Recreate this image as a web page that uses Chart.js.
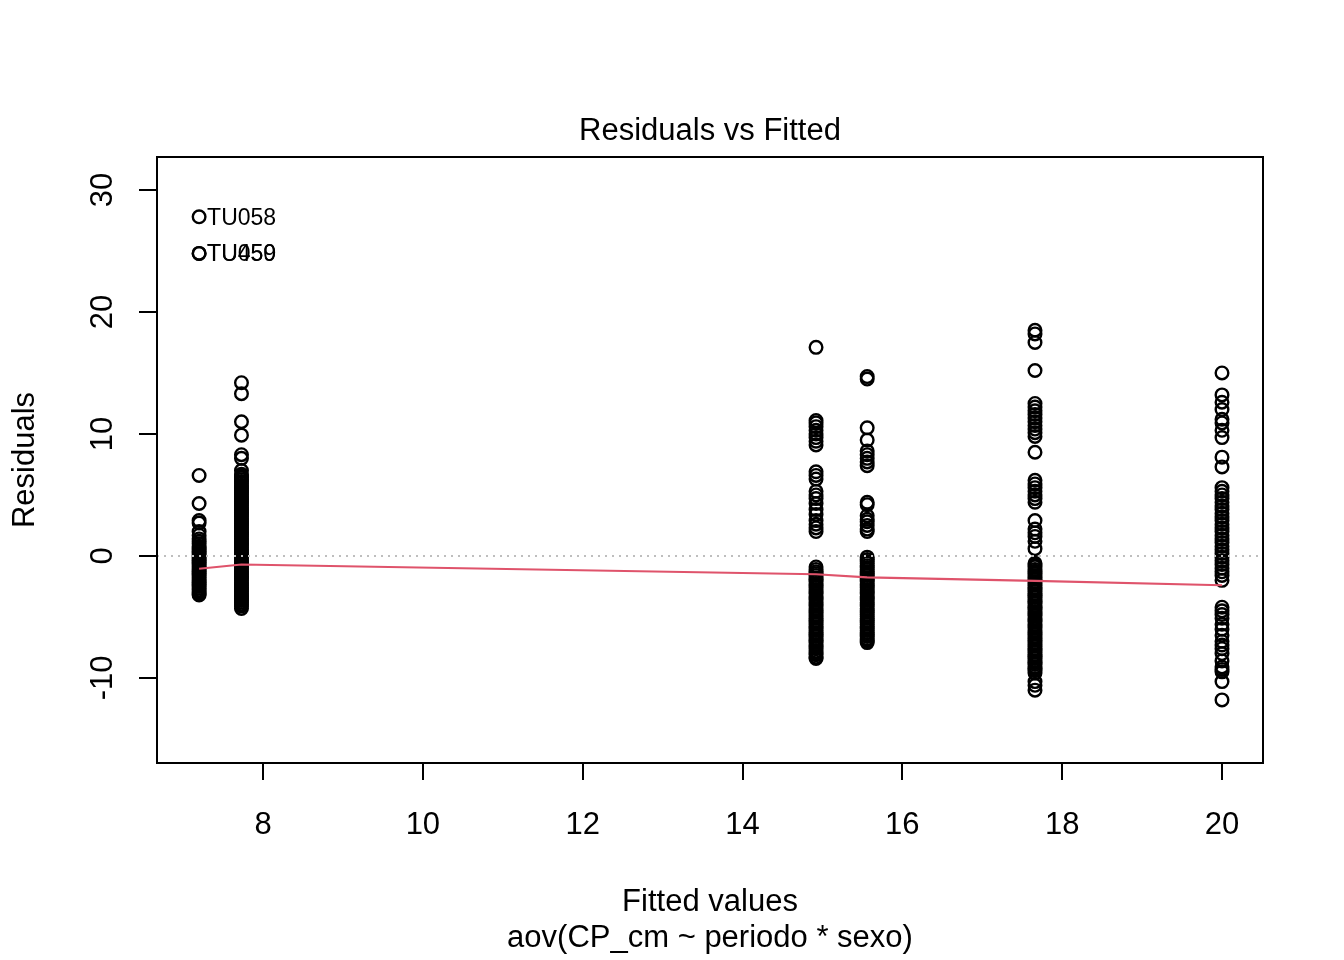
<!DOCTYPE html>
<html>
<head>
<meta charset="utf-8">
<script src="https://cdn.jsdelivr.net/npm/chart.js@4/dist/chart.umd.min.js"></script>
<style>
  html, body { margin: 0; padding: 0; background: #fff; }
  #wrap { width: 1344px; height: 960px; }
</style>
</head>
<body>
<div id="wrap"><canvas id="c" width="1344" height="960"></canvas></div>
<script>
// fitted levels (one per group) and the residuals
const fittedLevels = [7.2, 7.73, 14.92, 15.56, 17.66, 20.0];
const res1 = [27.8, 24.8, 24.8, 6.6, 4.3, 2.9, 2.7, 2.0, 1.7, 1.4, 1.2, 1.0,
    0.8, 0.65, 0.5, 0.35, 0.2, 0.05, -0.1, -0.25, -0.4, -0.55, -0.7, -0.85, -1.0, -1.15, -1.3, -1.45,
    -1.6, -1.75, -1.9, -2.05, -2.2, -2.35, -2.5, -2.65, -2.8, -2.95, -3.1, -3.2];
const res2 = [14.2, 13.3, 11.0, 9.9, 8.3, 8.0, 7.0,
    6.7, 6.55, 6.4, 6.25, 6.1, 5.95, 5.8, 5.65, 5.5, 5.35, 5.2, 5.05, 4.9, 4.75, 4.6, 4.45, 4.3, 4.15,
    4.0, 3.85, 3.7, 3.55, 3.4, 3.25, 3.1, 2.95, 2.8, 2.65, 2.5, 2.35, 2.2, 2.05, 1.9, 1.75, 1.6, 1.45,
    1.3, 1.15, 1.0, 0.85, 0.7, 0.55, 0.4, 0.25, 0.1, -0.05, -0.2, -0.35, -0.5, -0.65, -0.8, -0.95,
    -1.1, -1.25, -1.4, -1.55, -1.7, -1.85, -2.0, -2.15, -2.3, -2.45, -2.6, -2.75, -2.9, -3.05, -3.2,
    -3.35, -3.5, -3.65, -3.8, -3.95, -4.1, -4.3];
const res3 = [17.1, 11.1, 10.9, 10.6, 10.3, 10.0, 9.7, 9.4, 9.1, 6.9, 6.6, 6.3, 5.3, 5.0, 4.7, 4.3,
    3.8, 3.4, 2.9, 2.6, 2.3, 2.0,
    -0.9, -1.1, -1.3, -1.45, -1.6, -1.8, -1.95, -2.1, -2.3, -2.45, -2.6, -2.8, -2.95, -3.1, -3.3,
    -3.45, -3.6, -3.8, -3.95, -4.1, -4.3, -4.45, -4.6, -4.8, -4.95, -5.1, -5.3, -5.45, -5.6, -5.8,
    -5.95, -6.1, -6.3, -6.45, -6.6, -6.8, -6.95, -7.1, -7.3, -7.45, -7.6, -7.8, -7.95, -8.1, -8.3, -8.4];
const res4 = [14.7, 14.5, 10.5, 9.5, 8.6, 8.3, 8.0, 7.7, 7.4, 4.4, 4.2, 3.3, 3.0, 2.8, 2.5, 2.2, 2.0,
    -0.1, -0.3, -0.45, -0.6, -0.8, -0.95, -1.1, -1.3, -1.45, -1.6, -1.8, -1.95, -2.1, -2.3, -2.45,
    -2.6, -2.8, -2.95, -3.1, -3.3, -3.45, -3.6, -3.8, -3.95, -4.1, -4.3, -4.45, -4.6, -4.8, -4.95,
    -5.1, -5.3, -5.45, -5.6, -5.8, -5.95, -6.1, -6.3, -6.45, -6.6, -6.8, -6.95, -7.1];
const res5 = [18.5, 18.2, 17.5, 15.2, 12.5, 12.2, 11.9, 11.6, 11.3, 11.0, 10.7, 10.4, 10.1, 9.8, 8.5,
    6.2, 5.9, 5.6, 5.3, 5.0, 4.7, 4.4, 2.9, 2.2, 1.9, 1.6, 1.2, 0.6,
    -0.6, -0.75, -0.9, -1.1, -1.25, -1.4, -1.6, -1.75, -1.9, -2.1, -2.25, -2.4, -2.6, -2.75, -2.9,
    -3.1, -3.25, -3.4, -3.6, -3.75, -3.9, -4.1, -4.25, -4.4, -4.6, -4.75, -4.9, -5.1, -5.25, -5.4,
    -5.6, -5.75, -5.9, -6.1, -6.25, -6.4, -6.6, -6.75, -6.9, -7.1, -7.25, -7.4, -7.6, -7.75, -7.9,
    -8.1, -8.25, -8.4, -8.6, -8.75, -8.9, -9.1, -9.25, -9.4, -9.6, -10.3, -10.6, -11.0];
const res6 = [15.0, 13.2, 12.6, 12.0, 11.2, 10.9, 10.3, 9.7, 8.1, 7.3,
    5.6, 5.3, 5.0, 4.7, 4.4, 4.1, 3.8, 3.5, 3.2, 2.9, 2.6, 2.3, 2.0, 1.7, 1.4, 1.1, 0.8, 0.5, 0.2,
    -0.1, -0.4, -0.7, -1.0, -1.3, -1.6, -2.0,
    -4.2, -4.5, -4.8, -5.1, -5.6, -6.0, -6.5, -7.0, -7.3, -7.6, -8.0, -8.6, -9.1, -9.3, -9.5, -10.3, -11.8];
const residualsByLevel = [res1, res2, res3, res4, res5, res6];

// lowess smooth evaluated at the fitted levels
const smoothY = [-1.05, -0.7, -1.5, -1.75, -2.05, -2.4];

// labelled outliers
const outlierNames = ["TU058", "TU450", "TU059"];
const outlierX = [7.2, 7.2, 7.2];
const outlierY = [27.8, 24.8, 24.8];

const xTicks = [8, 10, 12, 14, 16, 18, 20];
const yTicks = [-10, 0, 10, 20, 30];

const FONT = "'Liberation Sans', Arial, sans-serif";

const points = [];
fittedLevels.forEach((f, i) => {
    residualsByLevel[i].forEach(r => points.push({ x: f, y: r }));
});
const smooth = fittedLevels.map((f, i) => ({ x: f, y: smoothY[i] }));

const xMin = 6.673, xMax = 20.513;
const yMin = -16.97, yMax = 32.7;

const rPlot = {
    id: "rPlot",
    afterDraw(chart) {
        const ctx = chart.ctx;
        const a = chart.chartArea;
        const xs = chart.scales.x, ys = chart.scales.y;
        ctx.save();
        // box
        ctx.strokeStyle = "#000";
        ctx.lineWidth = 2;
        ctx.strokeRect(a.left, a.top, a.right - a.left, a.bottom - a.top);

        ctx.fillStyle = "#000";
        // y tick labels, rotated like R
        ctx.font = "31px " + FONT;
        ctx.textAlign = "center";
        ctx.textBaseline = "alphabetic";
        yTicks.forEach(v => {
            ctx.save();
            ctx.translate(112, ys.getPixelForValue(v));
            ctx.rotate(-Math.PI / 2);
            ctx.fillText(String(v), 0, 0);
            ctx.restore();
        });
        // titles
        const cx = (a.left + a.right) / 2;
        ctx.fillText("Residuals vs Fitted", cx, 140);
        ctx.fillText("Fitted values", cx, 911);
        ctx.fillText("aov(CP_cm ~ periodo * sexo)", cx, 947);
        ctx.save();
        ctx.translate(34, (a.top + a.bottom) / 2);
        ctx.rotate(-Math.PI / 2);
        ctx.fillText("Residuals", 0, 0);
        ctx.restore();
        // outlier labels
        ctx.font = "23px " + FONT;
        ctx.textAlign = "left";
        outlierNames.forEach((n, i) => {
            const px = xs.getPixelForValue(outlierX[i]);
            const py = ys.getPixelForValue(outlierY[i]);
            ctx.fillText(n, px + 8, py + 8);
        });
        ctx.restore();
    }
};

new Chart(document.getElementById("c"), {
    type: "scatter",
    data: {
        datasets: [
            {
                data: [{ x: xMin, y: 0 }, { x: xMax, y: 0 }],
                showLine: true,
                borderColor: "#BEBEBE",
                borderWidth: 2,
                borderDash: [2, 5],
                pointRadius: 0,
                order: 0
            },
            {
                data: smooth,
                showLine: true,
                borderColor: "#DF536B",
                borderWidth: 2.2,
                pointRadius: 0,
                order: 1
            },
            {
                data: points,
                pointStyle: "circle",
                pointRadius: 6.3,
                pointBorderWidth: 2.4,
                pointBackgroundColor: "rgba(0,0,0,0)",
                pointBorderColor: "#000",
                order: 2
            }
        ]
    },
    options: {
        responsive: false,
        animation: false,
        devicePixelRatio: 1,
        layout: { padding: { top: 157, right: 81, bottom: 0, left: 0 } },
        plugins: {
            legend: { display: false },
            tooltip: { enabled: false }
        },
        scales: {
            x: {
                type: "linear",
                min: xMin,
                max: xMax,
                afterBuildTicks: s => { s.ticks = xTicks.map(v => ({ value: v })); },
                afterFit: s => { s.height = 197; },
                grid: { drawOnChartArea: false, drawTicks: true, tickLength: 17, color: "#000", lineWidth: 2 },
                border: { display: true, color: "#000", width: 2 },
                ticks: {
                    color: "#000",
                    font: { family: FONT, size: 31 },
                    padding: 27,
                    maxRotation: 0,
                    autoSkip: false
                }
            },
            y: {
                type: "linear",
                min: yMin,
                max: yMax,
                afterBuildTicks: s => { s.ticks = yTicks.map(v => ({ value: v })); },
                afterFit: s => { s.width = 157; },
                grid: { drawOnChartArea: false, drawTicks: true, tickLength: 18, color: "#000", lineWidth: 2 },
                border: { display: true, color: "#000", width: 2 },
                ticks: {
                    color: "rgba(0,0,0,0)",
                    font: { family: FONT, size: 31 }
                }
            }
        }
    },
    plugins: [rPlot]
});
</script>
</body>
</html>
